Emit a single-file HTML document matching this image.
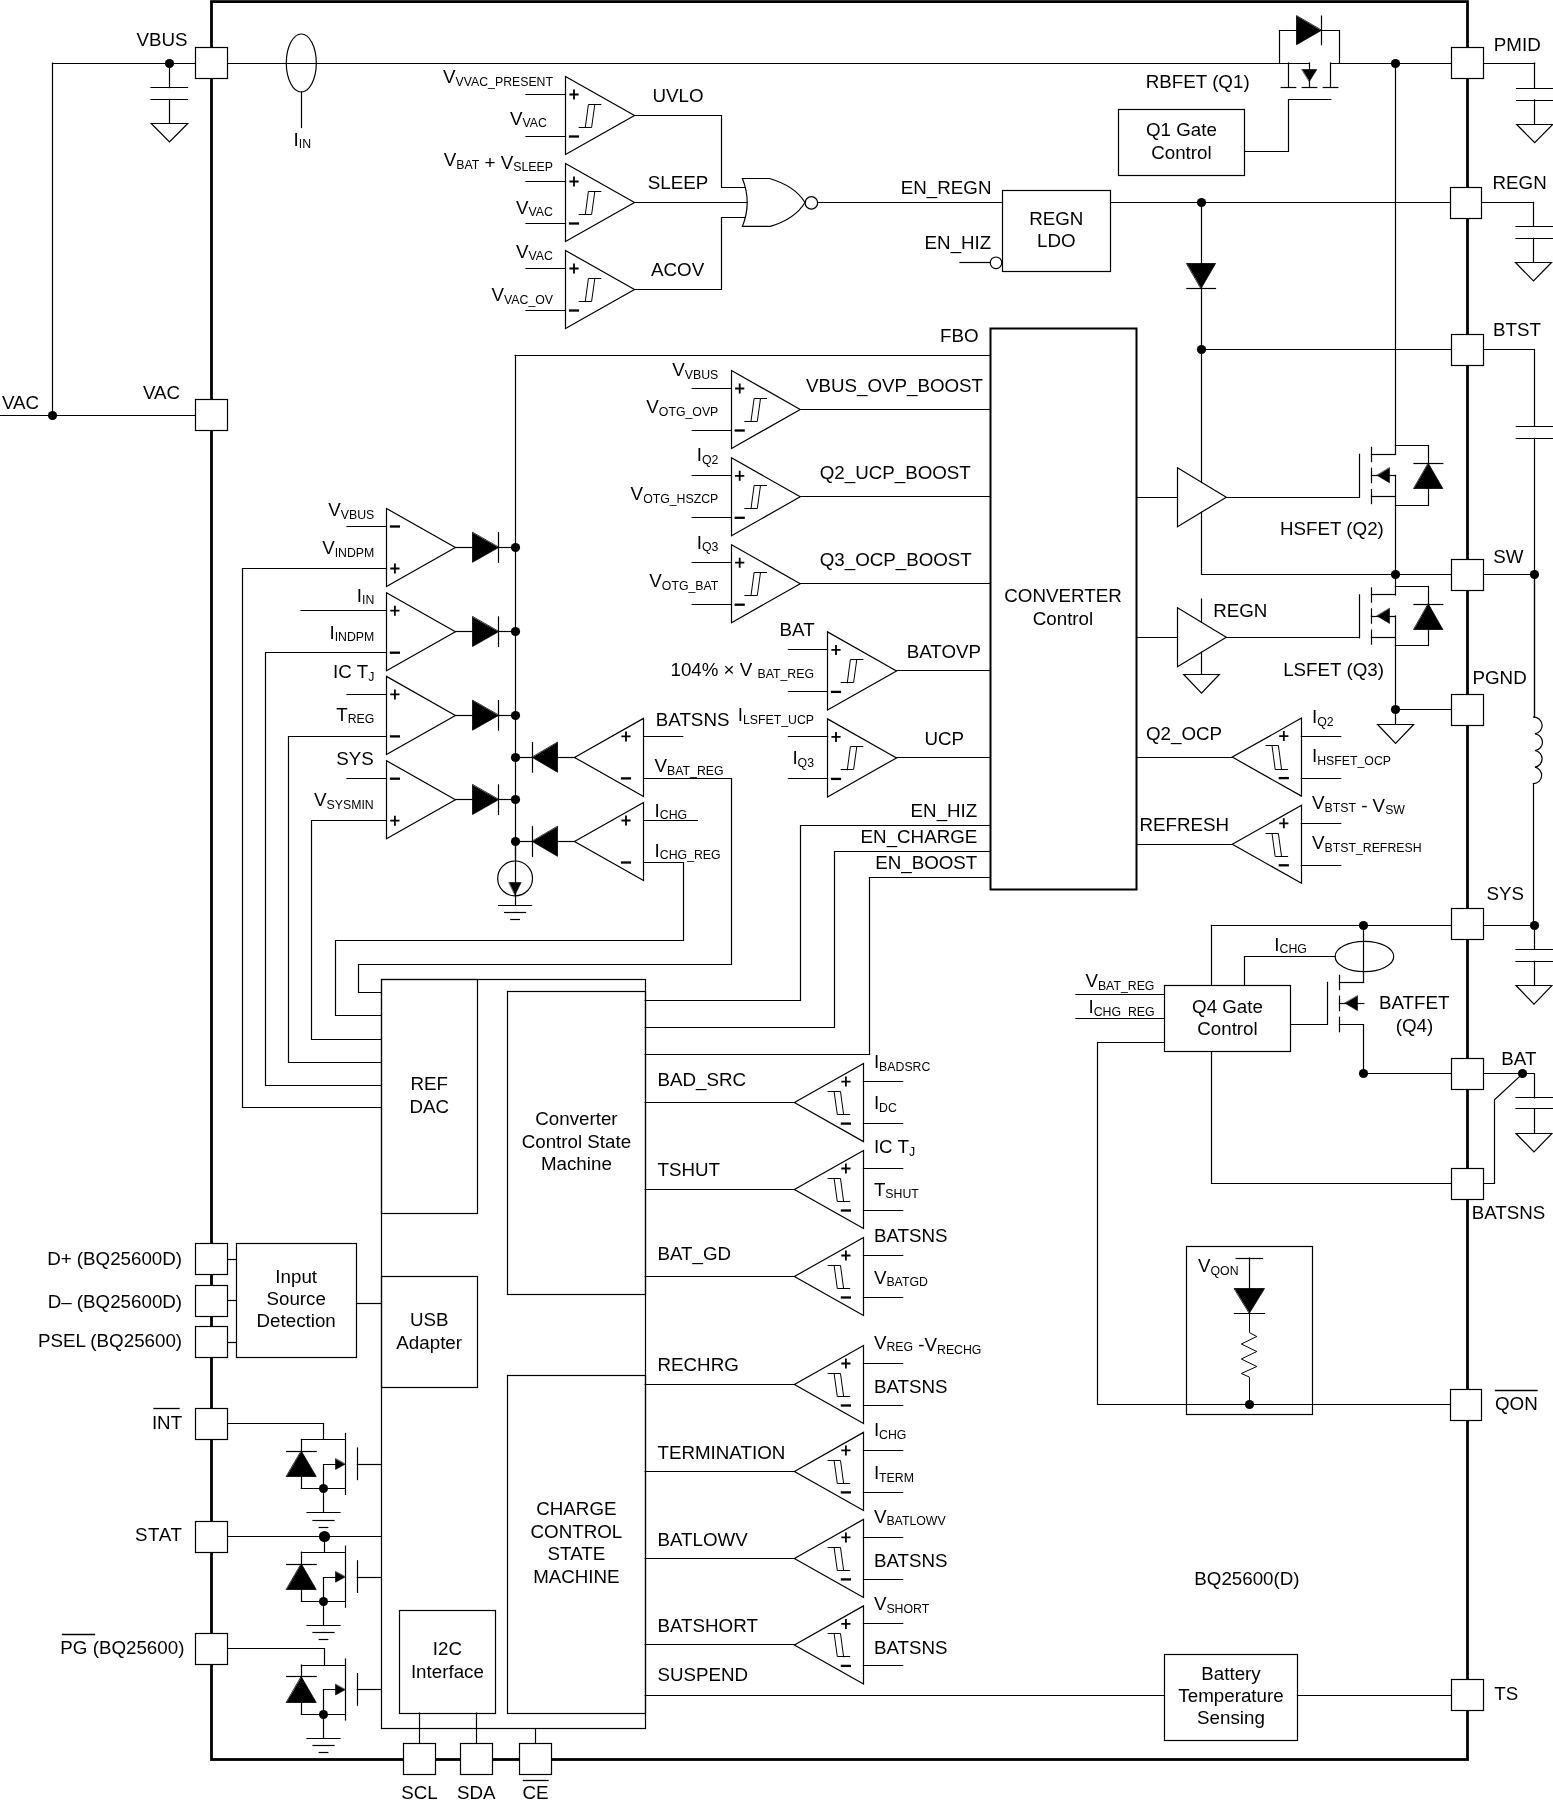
<!DOCTYPE html>
<html><head><meta charset="utf-8"><style>
html,body{margin:0;padding:0;background:#fff;}
svg{display:block;will-change:transform;}
text{font-family:"Liberation Sans",sans-serif;fill:#000;stroke:none;}
</style></head><body>
<svg width="1553" height="1806" viewBox="0 0 1553 1806" stroke="#000" stroke-linecap="square" stroke-linejoin="miter">
<rect x="0" y="0" width="1553" height="1806" fill="#fff" stroke="none"/>
<line x1="52.5" y1="63.5" x2="1309.5" y2="63.5" stroke-width="1.2"/>
<line x1="1330.5" y1="63.5" x2="1534.7" y2="63.5" stroke-width="1.2"/>
<line x1="0" y1="415.5" x2="211" y2="415.5" stroke-width="1.2"/>
<line x1="52.5" y1="63" x2="52.5" y2="415" stroke-width="1.2"/>
<circle cx="52.5" cy="415.5" r="4.6" fill="#000" stroke="none"/>
<circle cx="169.5" cy="63.5" r="4.6" fill="#000" stroke="none"/>
<line x1="169.5" y1="63" x2="169.5" y2="87.6" stroke-width="1.2"/>
<line x1="151" y1="87.5" x2="187.5" y2="87.5" stroke-width="1.2"/>
<line x1="151" y1="99.5" x2="187.5" y2="99.5" stroke-width="1.2"/>
<line x1="169.5" y1="99.3" x2="169.5" y2="123.3" stroke-width="1.2"/>
<polygon points="151.25,123.5 187.75,123.5 169.5,141.8" stroke-width="1.2" fill="#fff"/>
<ellipse cx="301.3" cy="63" rx="15" ry="29" fill="none" stroke-width="1.2"/>
<line x1="301.5" y1="92" x2="301.5" y2="127.5" stroke-width="1.2"/>
<text x="293.6" y="145.5" text-anchor="start" font-size="18.75">I<tspan dy="2.6" font-size="12.3">IN</tspan><tspan dy="-2.6"></tspan></text>
<polygon points="565.5,76.5 565.5,154.5 634.5,115.5" stroke-width="1.2" fill="#fff"/>
<path d="M569.4,94.5 H578.6 M574,89.5 V99.5" stroke-width="1.8" stroke-linecap="butt"/>
<path d="M568.9,136.5 H579.1" stroke-width="2.3" stroke-linecap="butt"/>
<polyline points="579.2,127.5 591.6,127.5 594.8,104.5 600.8,104.5" stroke-width="1" fill="none"/>
<polyline points="585.3,127.4 588.4,104.5 594.8,104.5" stroke-width="1" fill="none"/>
<line x1="526" y1="94.5" x2="565.5" y2="94.5" stroke-width="1.2"/>
<line x1="526" y1="136.5" x2="565.5" y2="136.5" stroke-width="1.2"/>
<polygon points="565.5,163.5 565.5,241.5 634.5,202.5" stroke-width="1.2" fill="#fff"/>
<path d="M569.4,181.5 H578.6 M574,176.5 V186.5" stroke-width="1.8" stroke-linecap="butt"/>
<path d="M568.9,223.5 H579.1" stroke-width="2.3" stroke-linecap="butt"/>
<polyline points="579.2,214.5 591.6,214.5 594.8,191.5 600.8,191.5" stroke-width="1" fill="none"/>
<polyline points="585.3,214.4 588.4,191.5 594.8,191.5" stroke-width="1" fill="none"/>
<line x1="526" y1="181.5" x2="565.5" y2="181.5" stroke-width="1.2"/>
<line x1="526" y1="223.5" x2="565.5" y2="223.5" stroke-width="1.2"/>
<polygon points="565.5,250.5 565.5,328.5 634.5,289.5" stroke-width="1.2" fill="#fff"/>
<path d="M569.4,268.5 H578.6 M574,263.5 V273.5" stroke-width="1.8" stroke-linecap="butt"/>
<path d="M568.9,310.5 H579.1" stroke-width="2.3" stroke-linecap="butt"/>
<polyline points="579.2,301.5 591.6,301.5 594.8,278.5 600.8,278.5" stroke-width="1" fill="none"/>
<polyline points="585.3,301.4 588.4,278.5 594.8,278.5" stroke-width="1" fill="none"/>
<line x1="526" y1="268.5" x2="565.5" y2="268.5" stroke-width="1.2"/>
<line x1="526" y1="310.5" x2="565.5" y2="310.5" stroke-width="1.2"/>
<polyline points="634.5,115.5 721.5,115.5 721.5,187.5 745.5,187.5" stroke-width="1.2" fill="none"/>
<line x1="634.5" y1="202.5" x2="747.8" y2="202.5" stroke-width="1.2"/>
<polyline points="634.5,289.5 721.5,289.5 721.5,217.5 745.5,217.5" stroke-width="1.2" fill="none"/>
<text x="652.5" y="101.7" text-anchor="start" font-size="18.75">UVLO</text>
<text x="647.8" y="189.3" text-anchor="start" font-size="18.75">SLEEP</text>
<text x="651" y="276.1" text-anchor="start" font-size="18.75">ACOV</text>
<text x="443" y="83" text-anchor="start" font-size="18.75">V<tspan dy="2.6" font-size="12.3">VVAC_PRESENT</tspan><tspan dy="-2.6"></tspan></text>
<text x="510" y="124.5" text-anchor="start" font-size="18.75">V<tspan dy="2.6" font-size="12.3">VAC</tspan><tspan dy="-2.6"></tspan></text>
<text x="443.8" y="166" text-anchor="start" font-size="18.75">V<tspan dy="2.6" font-size="12.3">BAT</tspan><tspan dy="-2.6"></tspan>&#160;+&#160;V<tspan dy="2.6" font-size="12.3">SLEEP</tspan><tspan dy="-2.6"></tspan></text>
<text x="516" y="213.8" text-anchor="start" font-size="18.75">V<tspan dy="2.6" font-size="12.3">VAC</tspan><tspan dy="-2.6"></tspan></text>
<text x="516" y="257.6" text-anchor="start" font-size="18.75">V<tspan dy="2.6" font-size="12.3">VAC</tspan><tspan dy="-2.6"></tspan></text>
<text x="491.5" y="301.4" text-anchor="start" font-size="18.75">V<tspan dy="2.6" font-size="12.3">VAC_OV</tspan><tspan dy="-2.6"></tspan></text>
<path d="M742.4,178.5 L769.5,178.5 Q795,186 805,202.5 Q795,219 770.3,226.4 L742.4,226.4 Q752,202.5 742.4,178.5 Z" stroke-width="1.2" fill="#fff"/>
<circle cx="811.4" cy="202.9" r="6.2" fill="#fff" stroke-width="1.2"/>
<line x1="817.6" y1="202.5" x2="1002" y2="202.5" stroke-width="1.2"/>
<text x="900.8" y="193.6" text-anchor="start" font-size="18.75">EN_REGN</text>
<rect x="1002.5" y="190.5" width="108" height="81" stroke-width="1.2" fill="#fff"/>
<text x="1056.3" y="224.6" text-anchor="middle" font-size="18.75">REGN</text>
<text x="1056.3" y="246.9" text-anchor="middle" font-size="18.75">LDO</text>
<text x="924.6" y="249.2" text-anchor="start" font-size="18.75">EN_HIZ</text>
<line x1="960" y1="262.5" x2="990.2" y2="262.5" stroke-width="1.2"/>
<circle cx="996" cy="262.8" r="5.8" fill="#fff" stroke-width="1.2"/>
<line x1="1110.7" y1="202.5" x2="1533.5" y2="202.5" stroke-width="1.2"/>
<circle cx="1201.5" cy="202.5" r="4.6" fill="#000" stroke="none"/>
<line x1="1201.5" y1="202.3" x2="1201.5" y2="482" stroke-width="1.2"/>
<polygon points="1186.9,263.5 1215.5,263.5 1201.2,288.2" stroke-width="0.8" fill="#000"/>
<line x1="1186.9" y1="288.5" x2="1215.5" y2="288.5" stroke-width="1.2"/>
<circle cx="1201.5" cy="349.5" r="4.6" fill="#000" stroke="none"/>
<line x1="1201.2" y1="349.5" x2="1534.4" y2="349.5" stroke-width="1.2"/>
<line x1="1534.5" y1="349.6" x2="1534.5" y2="426.3" stroke-width="1.2"/>
<line x1="1534.5" y1="438.3" x2="1534.5" y2="717.1" stroke-width="1.2"/>
<line x1="1516.3" y1="426.5" x2="1553" y2="426.5" stroke-width="1.2"/>
<line x1="1516.3" y1="438.5" x2="1553" y2="438.5" stroke-width="1.2"/>
<circle cx="1534.5" cy="574.5" r="4.6" fill="#000" stroke="none"/>
<line x1="1534.5" y1="63" x2="1534.5" y2="88" stroke-width="1.2"/>
<line x1="1516.6" y1="88.5" x2="1553" y2="88.5" stroke-width="1.2"/>
<line x1="1516.6" y1="100.5" x2="1553" y2="100.5" stroke-width="1.2"/>
<line x1="1534.5" y1="100" x2="1534.5" y2="124.6" stroke-width="1.2"/>
<polygon points="1516.7,124.5 1552.7,124.5 1534.7,142.6" stroke-width="1.2" fill="#fff"/>
<line x1="1533.5" y1="202.3" x2="1533.5" y2="226" stroke-width="1.2"/>
<line x1="1516" y1="226.5" x2="1553" y2="226.5" stroke-width="1.2"/>
<line x1="1516" y1="238.5" x2="1553" y2="238.5" stroke-width="1.2"/>
<line x1="1533.5" y1="238.3" x2="1533.5" y2="262.5" stroke-width="1.2"/>
<polygon points="1515.5,262.5 1551.5,262.5 1533.5,281" stroke-width="1.2" fill="#fff"/>
<polygon points="1296.5,16.1 1296.5,44.7 1321.2,30.4" stroke-width="0.8" fill="#000"/>
<line x1="1321.5" y1="16.1" x2="1321.5" y2="44.7" stroke-width="1.2"/>
<polyline points="1279.5,63 1279.5,30.5 1296.4,30.5" stroke-width="1.2" fill="none"/>
<polyline points="1321.2,30.5 1339.5,30.5 1339.5,63" stroke-width="1.2" fill="none"/>
<line x1="1288.5" y1="63" x2="1288.5" y2="87.4" stroke-width="1.2"/>
<line x1="1281.2" y1="87.5" x2="1295.7" y2="87.5" stroke-width="1.2"/>
<line x1="1309.5" y1="63" x2="1309.5" y2="87.4" stroke-width="1.2"/>
<polygon points="1302.2,69.5 1316.8,69.5 1309.5,81.3" stroke-width="0.6" fill="#000"/>
<line x1="1302.2" y1="87.5" x2="1316.8" y2="87.5" stroke-width="1.2"/>
<line x1="1330.5" y1="63" x2="1330.5" y2="87.4" stroke-width="1.2"/>
<line x1="1323.2" y1="87.5" x2="1337.8" y2="87.5" stroke-width="1.2"/>
<polyline points="1330.8,99.5 1288.5,99.5 1288.5,151.5 1244.4,151.5" stroke-width="1.2" fill="none"/>
<text x="1145.8" y="88.4" text-anchor="start" font-size="18.75">RBFET (Q1)</text>
<rect x="1118.5" y="109.5" width="126" height="66" stroke-width="1.2" fill="#fff"/>
<text x="1181.4" y="136.3" text-anchor="middle" font-size="18.75">Q1 Gate</text>
<text x="1181.4" y="158.5" text-anchor="middle" font-size="18.75">Control</text>
<circle cx="1395.5" cy="63.5" r="4.6" fill="#000" stroke="none"/>
<line x1="1395.5" y1="63" x2="1395.5" y2="454.3" stroke-width="1.2"/>
<line x1="515.1" y1="355.5" x2="990.3" y2="355.5" stroke-width="1.2"/>
<text x="940.1" y="341.9" text-anchor="start" font-size="18.75">FBO</text>
<line x1="515.5" y1="355.4" x2="515.5" y2="860" stroke-width="1.2"/>
<polygon points="731.5,370.5 731.5,448.5 800.2,409.5" stroke-width="1.2" fill="#fff"/>
<path d="M735.1,388.5 H744.3 M739.7,383.5 V393.5" stroke-width="1.8" stroke-linecap="butt"/>
<path d="M734.6,430.5 H744.8" stroke-width="2.3" stroke-linecap="butt"/>
<polyline points="744.9,421.5 757.3,421.5 760.5,398.5 766.5,398.5" stroke-width="1" fill="none"/>
<polyline points="751,421.4 754.1,398.5 760.5,398.5" stroke-width="1" fill="none"/>
<line x1="692.2" y1="388.5" x2="731.2" y2="388.5" stroke-width="1.2"/>
<line x1="692.2" y1="430.5" x2="731.2" y2="430.5" stroke-width="1.2"/>
<line x1="800.2" y1="409.5" x2="990.3" y2="409.5" stroke-width="1.2"/>
<text x="805.9" y="392.4" text-anchor="start" font-size="18.75">VBUS_OVP_BOOST</text>
<polygon points="731.5,457.8 731.5,535.8 800.2,496.8" stroke-width="1.2" fill="#fff"/>
<path d="M735.1,475.8 H744.3 M739.7,470.8 V480.8" stroke-width="1.8" stroke-linecap="butt"/>
<path d="M734.6,517.8 H744.8" stroke-width="2.3" stroke-linecap="butt"/>
<polyline points="744.9,508.5 757.3,508.5 760.5,485.5 766.5,485.5" stroke-width="1" fill="none"/>
<polyline points="751,508.7 754.1,485.5 760.5,485.5" stroke-width="1" fill="none"/>
<line x1="692.2" y1="475.5" x2="731.2" y2="475.5" stroke-width="1.2"/>
<line x1="692.2" y1="517.5" x2="731.2" y2="517.5" stroke-width="1.2"/>
<line x1="800.2" y1="496.5" x2="990.3" y2="496.5" stroke-width="1.2"/>
<text x="819.7" y="479.4" text-anchor="start" font-size="18.75">Q2_UCP_BOOST</text>
<polygon points="731.5,544.7 731.5,622.7 800.2,583.7" stroke-width="1.2" fill="#fff"/>
<path d="M735.1,562.7 H744.3 M739.7,557.7 V567.7" stroke-width="1.8" stroke-linecap="butt"/>
<path d="M734.6,604.7 H744.8" stroke-width="2.3" stroke-linecap="butt"/>
<polyline points="744.9,595.5 757.3,595.5 760.5,572.5 766.5,572.5" stroke-width="1" fill="none"/>
<polyline points="751,595.6 754.1,572.5 760.5,572.5" stroke-width="1" fill="none"/>
<line x1="692.2" y1="562.5" x2="731.2" y2="562.5" stroke-width="1.2"/>
<line x1="692.2" y1="604.5" x2="731.2" y2="604.5" stroke-width="1.2"/>
<line x1="800.2" y1="583.5" x2="990.3" y2="583.5" stroke-width="1.2"/>
<text x="819.7" y="566.3" text-anchor="start" font-size="18.75">Q3_OCP_BOOST</text>
<text x="718.3" y="376.3" text-anchor="end" font-size="18.75">V<tspan dy="2.6" font-size="12.3">VBUS</tspan><tspan dy="-2.6"></tspan></text>
<text x="718.3" y="413.4" text-anchor="end" font-size="18.75">V<tspan dy="2.6" font-size="12.3">OTG_OVP</tspan><tspan dy="-2.6"></tspan></text>
<text x="718.3" y="461" text-anchor="end" font-size="18.75">I<tspan dy="2.6" font-size="12.3">Q2</tspan><tspan dy="-2.6"></tspan></text>
<text x="718.3" y="500.3" text-anchor="end" font-size="18.75">V<tspan dy="2.6" font-size="12.3">OTG_HSZCP</tspan><tspan dy="-2.6"></tspan></text>
<text x="718.3" y="548.6" text-anchor="end" font-size="18.75">I<tspan dy="2.6" font-size="12.3">Q3</tspan><tspan dy="-2.6"></tspan></text>
<text x="718.3" y="587.2" text-anchor="end" font-size="18.75">V<tspan dy="2.6" font-size="12.3">OTG_BAT</tspan><tspan dy="-2.6"></tspan></text>
<polygon points="827.5,631.9 827.5,709.9 896.5,670.9" stroke-width="1.2" fill="#fff"/>
<path d="M831.4,649.9 H840.6 M836,644.9 V654.9" stroke-width="1.8" stroke-linecap="butt"/>
<path d="M830.9,691.9 H841.1" stroke-width="2.3" stroke-linecap="butt"/>
<polyline points="841.2,682.5 853.6,682.5 856.8,659.5 862.8,659.5" stroke-width="1" fill="none"/>
<polyline points="847.3,682.8 850.4,659.5 856.8,659.5" stroke-width="1" fill="none"/>
<line x1="788.4" y1="649.5" x2="827.5" y2="649.5" stroke-width="1.2"/>
<line x1="788.4" y1="691.5" x2="827.5" y2="691.5" stroke-width="1.2"/>
<line x1="896.5" y1="670.5" x2="990.3" y2="670.5" stroke-width="1.2"/>
<text x="906.7" y="657.5" text-anchor="start" font-size="18.75">BATOVP</text>
<polygon points="827.5,718.9 827.5,796.9 896.5,757.9" stroke-width="1.2" fill="#fff"/>
<path d="M831.4,736.9 H840.6 M836,731.9 V741.9" stroke-width="1.8" stroke-linecap="butt"/>
<path d="M830.9,778.9 H841.1" stroke-width="2.3" stroke-linecap="butt"/>
<polyline points="841.2,769.5 853.6,769.5 856.8,746.5 862.8,746.5" stroke-width="1" fill="none"/>
<polyline points="847.3,769.8 850.4,746.5 856.8,746.5" stroke-width="1" fill="none"/>
<line x1="788.4" y1="736.5" x2="827.5" y2="736.5" stroke-width="1.2"/>
<line x1="788.4" y1="778.5" x2="827.5" y2="778.5" stroke-width="1.2"/>
<line x1="896.5" y1="757.5" x2="990.3" y2="757.5" stroke-width="1.2"/>
<text x="924.4" y="744.5" text-anchor="start" font-size="18.75">UCP</text>
<text x="779.6" y="636.1" text-anchor="start" font-size="18.75">BAT</text>
<text x="814" y="675.5" text-anchor="end" font-size="18.75">104%&#160;×&#160;V&#160;<tspan dy="2.6" font-size="12.3">BAT_REG</tspan><tspan dy="-2.6"></tspan></text>
<text x="814" y="720.9" text-anchor="end" font-size="18.75">I<tspan dy="2.6" font-size="12.3">LSFET_UCP</tspan><tspan dy="-2.6"></tspan></text>
<text x="814" y="764.2" text-anchor="end" font-size="18.75">I<tspan dy="2.6" font-size="12.3">Q3</tspan><tspan dy="-2.6"></tspan></text>
<polyline points="990.3,825.5 800.5,825.5 800.5,1000.5 645.2,1000.5" stroke-width="1.2" fill="none"/>
<polyline points="990.3,851.5 834.5,851.5 834.5,1027.5 645.2,1027.5" stroke-width="1.2" fill="none"/>
<polyline points="990.3,877.5 869.5,877.5 869.5,1054.5 645.2,1054.5" stroke-width="1.2" fill="none"/>
<text x="977.3" y="816.7" text-anchor="end" font-size="18.75">EN_HIZ</text>
<text x="977.3" y="843" text-anchor="end" font-size="18.75">EN_CHARGE</text>
<text x="977.3" y="869.3" text-anchor="end" font-size="18.75">EN_BOOST</text>
<rect x="990.5" y="328.5" width="146" height="561" stroke-width="2" fill="#fff"/>
<text x="1063" y="602.3" text-anchor="middle" font-size="18.75">CONVERTER</text>
<text x="1063" y="624.6" text-anchor="middle" font-size="18.75">Control</text>
<line x1="1136.7" y1="497.5" x2="1177.3" y2="497.5" stroke-width="1.2"/>
<line x1="1136.7" y1="637.5" x2="1177.3" y2="637.5" stroke-width="1.2"/>
<polygon points="1177.5,467.7 1177.5,526.7 1226.3,497.2" stroke-width="1.2" fill="#fff"/>
<polygon points="1177.5,607.7 1177.5,666.7 1226.3,637.2" stroke-width="1.2" fill="#fff"/>
<polyline points="1201.5,512.3 1201.5,574.5 1395.4,574.5" stroke-width="1.2" fill="none"/>
<line x1="1395.4" y1="574.5" x2="1467" y2="574.5" stroke-width="1.2"/>
<line x1="1483" y1="574.5" x2="1534.4" y2="574.5" stroke-width="1.2"/>
<circle cx="1395.5" cy="574.5" r="4.6" fill="#000" stroke="none"/>
<line x1="1201.5" y1="599" x2="1201.5" y2="622.2" stroke-width="1.2"/>
<line x1="1201.5" y1="652.2" x2="1201.5" y2="674.2" stroke-width="1.2"/>
<polygon points="1183.7,674.5 1219.3,674.5 1201.5,693.2" stroke-width="1.2" fill="#fff"/>
<text x="1213.2" y="617.4" text-anchor="start" font-size="18.75">REGN</text>
<line x1="1226.3" y1="497.5" x2="1359.4" y2="497.5" stroke-width="1.2"/>
<line x1="1359.5" y1="454.3" x2="1359.5" y2="497.2" stroke-width="1.2"/>
<line x1="1371.5" y1="447.4" x2="1371.5" y2="461.6" stroke-width="1.2"/>
<line x1="1371.5" y1="468.3" x2="1371.5" y2="482.6" stroke-width="1.2"/>
<line x1="1371.5" y1="489.5" x2="1371.5" y2="503.6" stroke-width="1.2"/>
<line x1="1371.4" y1="454.5" x2="1395.4" y2="454.5" stroke-width="1.2"/>
<line x1="1371.4" y1="475.5" x2="1395.4" y2="475.5" stroke-width="1.2"/>
<polygon points="1389.5,468 1389.5,482.8 1377.2,475.4" stroke-width="0.6" fill="#000"/>
<line x1="1371.4" y1="496.5" x2="1395.4" y2="496.5" stroke-width="1.2"/>
<polyline points="1395.4,445.5 1428.5,445.5 1428.5,463.5" stroke-width="1.2" fill="none"/>
<polygon points="1414,488.5 1442.8,488.5 1428.4,463.5" stroke-width="0.8" fill="#000"/>
<line x1="1414" y1="463.5" x2="1442.8" y2="463.5" stroke-width="1.2"/>
<polyline points="1428.5,488.6 1428.5,505.5 1395.4,505.5" stroke-width="1.2" fill="none"/>
<line x1="1226.3" y1="637.5" x2="1359.4" y2="637.5" stroke-width="1.2"/>
<line x1="1359.5" y1="594.9" x2="1359.5" y2="637.8" stroke-width="1.2"/>
<line x1="1371.5" y1="588" x2="1371.5" y2="602.2" stroke-width="1.2"/>
<line x1="1371.5" y1="608.9" x2="1371.5" y2="623.2" stroke-width="1.2"/>
<line x1="1371.5" y1="630.1" x2="1371.5" y2="644.2" stroke-width="1.2"/>
<line x1="1371.4" y1="594.5" x2="1395.4" y2="594.5" stroke-width="1.2"/>
<line x1="1371.4" y1="616.5" x2="1395.4" y2="616.5" stroke-width="1.2"/>
<polygon points="1389.5,608.6 1389.5,623.4 1377.2,616" stroke-width="0.6" fill="#000"/>
<line x1="1371.4" y1="637.5" x2="1395.4" y2="637.5" stroke-width="1.2"/>
<polyline points="1395.4,586.5 1428.5,586.5 1428.5,604.1" stroke-width="1.2" fill="none"/>
<polygon points="1414,629.5 1442.8,629.5 1428.4,604.1" stroke-width="0.8" fill="#000"/>
<line x1="1414" y1="604.5" x2="1442.8" y2="604.5" stroke-width="1.2"/>
<polyline points="1428.5,629.2 1428.5,645.5 1395.4,645.5" stroke-width="1.2" fill="none"/>
<line x1="1395.5" y1="475.4" x2="1395.5" y2="574.3" stroke-width="1.2"/>
<line x1="1395.5" y1="574.3" x2="1395.5" y2="595" stroke-width="1.2"/>
<line x1="1395.5" y1="616" x2="1395.5" y2="709.3" stroke-width="1.2"/>
<text x="1280" y="534.8" text-anchor="start" font-size="18.75">HSFET (Q2)</text>
<text x="1283.2" y="675.7" text-anchor="start" font-size="18.75">LSFET (Q3)</text>
<circle cx="1395.5" cy="709.5" r="4.6" fill="#000" stroke="none"/>
<line x1="1395.4" y1="709.5" x2="1467" y2="709.5" stroke-width="1.2"/>
<line x1="1395.5" y1="709.3" x2="1395.5" y2="724.4" stroke-width="1.2"/>
<polygon points="1377.6,724.5 1413.6,724.5 1395.6,743.4" stroke-width="1.2" fill="#fff"/>
<line x1="1534.5" y1="574.3" x2="1534.5" y2="717.1" stroke-width="1.2"/>
<path d="M1533.5,717.1 A8.4,8.4 0 0 1 1535,733.8 A8.4,8.4 0 0 1 1535,750.5 A8.4,8.4 0 0 1 1535,767.1 A8.4,8.4 0 0 1 1533.5,783.7" stroke-width="1.2" fill="none"/>
<line x1="1533.5" y1="783.7" x2="1533.5" y2="925.4" stroke-width="1.2"/>
<polygon points="1301.5,718.1 1301.5,796.1 1232.3,757.1" stroke-width="1.2" fill="#fff"/>
<path d="M1279.2,736.1 H1288.4 M1283.8,731.1 V741.1" stroke-width="1.8" stroke-linecap="butt"/>
<path d="M1278.7,778.1 H1288.9" stroke-width="2.3" stroke-linecap="butt"/>
<polyline points="1287.6,769.5 1275.2,769.5 1272,745.5 1266,745.5" stroke-width="1" fill="none"/>
<polyline points="1281.5,769 1278.4,745.5 1272,745.5" stroke-width="1" fill="none"/>
<line x1="1301.3" y1="736.5" x2="1340.7" y2="736.5" stroke-width="1.2"/>
<line x1="1301.3" y1="778.5" x2="1340.7" y2="778.5" stroke-width="1.2"/>
<line x1="1136.7" y1="757.5" x2="1232.3" y2="757.5" stroke-width="1.2"/>
<text x="1146" y="740.4" text-anchor="start" font-size="18.75">Q2_OCP</text>
<polygon points="1301.5,805.3 1301.5,883.3 1232.3,844.3" stroke-width="1.2" fill="#fff"/>
<path d="M1279.2,823.3 H1288.4 M1283.8,818.3 V828.3" stroke-width="1.8" stroke-linecap="butt"/>
<path d="M1278.7,865.3 H1288.9" stroke-width="2.3" stroke-linecap="butt"/>
<polyline points="1287.6,856.5 1275.2,856.5 1272,833.5 1266,833.5" stroke-width="1" fill="none"/>
<polyline points="1281.5,856.2 1278.4,833.5 1272,833.5" stroke-width="1" fill="none"/>
<line x1="1301.3" y1="823.5" x2="1340.7" y2="823.5" stroke-width="1.2"/>
<line x1="1301.3" y1="865.5" x2="1340.7" y2="865.5" stroke-width="1.2"/>
<line x1="1136.7" y1="844.5" x2="1232.3" y2="844.5" stroke-width="1.2"/>
<text x="1139.4" y="830.9" text-anchor="start" font-size="18.75">REFRESH</text>
<text x="1312" y="723" text-anchor="start" font-size="18.75">I<tspan dy="2.6" font-size="12.3">Q2</tspan><tspan dy="-2.6"></tspan></text>
<text x="1312" y="762.3" text-anchor="start" font-size="18.75">I<tspan dy="2.6" font-size="12.3">HSFET_OCP</tspan><tspan dy="-2.6"></tspan></text>
<text x="1312" y="809" text-anchor="start" font-size="18.75">V<tspan dy="2.6" font-size="12.3">BTST</tspan><tspan dy="-2.6"></tspan>&#160;-&#160;V<tspan dy="2.6" font-size="12.3">SW</tspan><tspan dy="-2.6"></tspan></text>
<text x="1312" y="849" text-anchor="start" font-size="18.75">V<tspan dy="2.6" font-size="12.3">BTST_REFRESH</tspan><tspan dy="-2.6"></tspan></text>
<polyline points="386.4,568.5 242.5,568.5 242.5,1107.5 381.4,1107.5" stroke-width="1.2" fill="none"/>
<polyline points="386.4,652.5 265.5,652.5 265.5,1085.5 381.4,1085.5" stroke-width="1.2" fill="none"/>
<polyline points="386.4,736.5 288.5,736.5 288.5,1062.5 381.4,1062.5" stroke-width="1.2" fill="none"/>
<polyline points="386.4,820.5 311.5,820.5 311.5,1039.5 381.4,1039.5" stroke-width="1.2" fill="none"/>
<line x1="347" y1="526.5" x2="386.4" y2="526.5" stroke-width="1.2"/>
<line x1="301" y1="610.5" x2="386.4" y2="610.5" stroke-width="1.2"/>
<line x1="347" y1="694.5" x2="386.4" y2="694.5" stroke-width="1.2"/>
<line x1="347" y1="778.5" x2="386.4" y2="778.5" stroke-width="1.2"/>
<polygon points="386.5,508.5 386.5,586.5 455.4,547.5" stroke-width="1.2" fill="#fff"/>
<path d="M389.8,526.5 H400" stroke-width="2.3" stroke-linecap="butt"/>
<path d="M390.3,568.5 H399.5 M394.9,563.5 V573.5" stroke-width="1.8" stroke-linecap="butt"/>
<line x1="455.4" y1="547.5" x2="472.2" y2="547.5" stroke-width="1.2"/>
<polygon points="472.5,532.7 472.5,562.3 498.5,547.5" stroke-width="0.8" fill="#000"/>
<line x1="498.5" y1="532.7" x2="498.5" y2="562.3" stroke-width="1.2"/>
<line x1="498.5" y1="547.5" x2="515.1" y2="547.5" stroke-width="1.2"/>
<circle cx="515.5" cy="547.5" r="4.6" fill="#000" stroke="none"/>
<polygon points="386.5,592.7 386.5,670.7 455.4,631.7" stroke-width="1.2" fill="#fff"/>
<path d="M390.3,610.7 H399.5 M394.9,605.7 V615.7" stroke-width="1.8" stroke-linecap="butt"/>
<path d="M389.8,652.7 H400" stroke-width="2.3" stroke-linecap="butt"/>
<line x1="455.4" y1="631.5" x2="472.2" y2="631.5" stroke-width="1.2"/>
<polygon points="472.5,616.9 472.5,646.5 498.5,631.7" stroke-width="0.8" fill="#000"/>
<line x1="498.5" y1="616.9" x2="498.5" y2="646.5" stroke-width="1.2"/>
<line x1="498.5" y1="631.5" x2="515.1" y2="631.5" stroke-width="1.2"/>
<circle cx="515.5" cy="631.5" r="4.6" fill="#000" stroke="none"/>
<polygon points="386.5,676.4 386.5,754.4 455.4,715.4" stroke-width="1.2" fill="#fff"/>
<path d="M390.3,694.4 H399.5 M394.9,689.4 V699.4" stroke-width="1.8" stroke-linecap="butt"/>
<path d="M389.8,736.4 H400" stroke-width="2.3" stroke-linecap="butt"/>
<line x1="455.4" y1="715.5" x2="472.2" y2="715.5" stroke-width="1.2"/>
<polygon points="472.5,700.6 472.5,730.2 498.5,715.4" stroke-width="0.8" fill="#000"/>
<line x1="498.5" y1="700.6" x2="498.5" y2="730.2" stroke-width="1.2"/>
<line x1="498.5" y1="715.5" x2="515.1" y2="715.5" stroke-width="1.2"/>
<circle cx="515.5" cy="715.5" r="4.6" fill="#000" stroke="none"/>
<polygon points="386.5,760.7 386.5,838.7 455.4,799.7" stroke-width="1.2" fill="#fff"/>
<path d="M389.8,778.7 H400" stroke-width="2.3" stroke-linecap="butt"/>
<path d="M390.3,820.7 H399.5 M394.9,815.7 V825.7" stroke-width="1.8" stroke-linecap="butt"/>
<line x1="455.4" y1="799.5" x2="472.2" y2="799.5" stroke-width="1.2"/>
<polygon points="472.5,784.9 472.5,814.5 498.5,799.7" stroke-width="0.8" fill="#000"/>
<line x1="498.5" y1="784.9" x2="498.5" y2="814.5" stroke-width="1.2"/>
<line x1="498.5" y1="799.5" x2="515.1" y2="799.5" stroke-width="1.2"/>
<circle cx="515.5" cy="799.5" r="4.6" fill="#000" stroke="none"/>
<text x="374.3" y="516" text-anchor="end" font-size="18.75">V<tspan dy="2.6" font-size="12.3">VBUS</tspan><tspan dy="-2.6"></tspan></text>
<text x="374.3" y="554.4" text-anchor="end" font-size="18.75">V<tspan dy="2.6" font-size="12.3">INDPM</tspan><tspan dy="-2.6"></tspan></text>
<text x="374.3" y="601.5" text-anchor="end" font-size="18.75">I<tspan dy="2.6" font-size="12.3">IN</tspan><tspan dy="-2.6"></tspan></text>
<text x="374.3" y="638.7" text-anchor="end" font-size="18.75">I<tspan dy="2.6" font-size="12.3">INDPM</tspan><tspan dy="-2.6"></tspan></text>
<text x="374.3" y="678.1" text-anchor="end" font-size="18.75">IC T<tspan dy="2.6" font-size="12.3">J</tspan><tspan dy="-2.6"></tspan></text>
<text x="374.3" y="720.8" text-anchor="end" font-size="18.75">T<tspan dy="2.6" font-size="12.3">REG</tspan><tspan dy="-2.6"></tspan></text>
<text x="373.7" y="765.4" text-anchor="end" font-size="18.75">SYS</text>
<text x="373.7" y="806" text-anchor="end" font-size="18.75">V<tspan dy="2.6" font-size="12.3">SYSMIN</tspan><tspan dy="-2.6"></tspan></text>
<polyline points="643.5,778.5 731.5,778.5 731.5,964.5 358.5,964.5 358.5,992.5 381.4,992.5" stroke-width="1.2" fill="none"/>
<polyline points="643.5,862.5 683.5,862.5 683.5,940.5 335.5,940.5 335.5,1015.5 381.4,1015.5" stroke-width="1.2" fill="none"/>
<line x1="643.5" y1="736.5" x2="682.7" y2="736.5" stroke-width="1.2"/>
<line x1="643.5" y1="820.5" x2="697.4" y2="820.5" stroke-width="1.2"/>
<polygon points="643.5,718.4 643.5,796.4 574.5,757.4" stroke-width="1.2" fill="#fff"/>
<path d="M621.4,736.4 H630.6 M626,731.4 V741.4" stroke-width="1.8" stroke-linecap="butt"/>
<path d="M620.9,778.4 H631.1" stroke-width="2.3" stroke-linecap="butt"/>
<line x1="515.1" y1="757.5" x2="532.3" y2="757.5" stroke-width="1.2"/>
<polygon points="557.5,742.6 557.5,772.2 532.3,757.4" stroke-width="0.8" fill="#000"/>
<line x1="532.5" y1="742.6" x2="532.5" y2="772.2" stroke-width="1.2"/>
<line x1="557.5" y1="757.5" x2="574.5" y2="757.5" stroke-width="1.2"/>
<circle cx="515.5" cy="757.5" r="4.6" fill="#000" stroke="none"/>
<polygon points="643.5,802.5 643.5,880.5 574.5,841.5" stroke-width="1.2" fill="#fff"/>
<path d="M621.4,820.5 H630.6 M626,815.5 V825.5" stroke-width="1.8" stroke-linecap="butt"/>
<path d="M620.9,862.5 H631.1" stroke-width="2.3" stroke-linecap="butt"/>
<line x1="515.1" y1="841.5" x2="532.3" y2="841.5" stroke-width="1.2"/>
<polygon points="557.5,826.7 557.5,856.3 532.3,841.5" stroke-width="0.8" fill="#000"/>
<line x1="532.5" y1="826.7" x2="532.5" y2="856.3" stroke-width="1.2"/>
<line x1="557.5" y1="841.5" x2="574.5" y2="841.5" stroke-width="1.2"/>
<circle cx="515.5" cy="841.5" r="4.6" fill="#000" stroke="none"/>
<text x="655.8" y="726.4" text-anchor="start" font-size="18.75">BATSNS</text>
<text x="654.6" y="772" text-anchor="start" font-size="18.75">V<tspan dy="2.6" font-size="12.3">BAT_REG</tspan><tspan dy="-2.6"></tspan></text>
<text x="654.6" y="816.5" text-anchor="start" font-size="18.75">I<tspan dy="2.6" font-size="12.3">CHG</tspan><tspan dy="-2.6"></tspan></text>
<text x="654.6" y="856.5" text-anchor="start" font-size="18.75">I<tspan dy="2.6" font-size="12.3">CHG_REG</tspan><tspan dy="-2.6"></tspan></text>
<line x1="515.5" y1="841.5" x2="515.5" y2="905.2" stroke-width="1.2"/>
<ellipse cx="515.1" cy="878.4" rx="17.4" ry="17.4" fill="none" stroke-width="1.2"/>
<polygon points="509.3,882.5 521.1,882.5 515.1,894.7" stroke-width="0.6" fill="#000"/>
<line x1="498.6" y1="905.5" x2="531.6" y2="905.5" stroke-width="1.2"/>
<line x1="504.6" y1="912.5" x2="525.6" y2="912.5" stroke-width="1.2"/>
<line x1="510.8" y1="919.5" x2="519.4" y2="919.5" stroke-width="1.2"/>
<rect x="381.5" y="979.5" width="264" height="749" stroke-width="1.2" fill="none"/>
<rect x="381.5" y="979.5" width="96" height="234" stroke-width="1.2" fill="none"/>
<rect x="381.5" y="1276.5" width="96" height="111" stroke-width="1.2" fill="none"/>
<rect x="399.5" y="1610.5" width="96" height="103" stroke-width="1.2" fill="none"/>
<rect x="507.5" y="991.5" width="138" height="303" stroke-width="1.2" fill="none"/>
<rect x="507.5" y="1375.5" width="138" height="338" stroke-width="1.2" fill="none"/>
<text x="429.2" y="1089.8" text-anchor="middle" font-size="18.75">REF</text>
<text x="429.2" y="1112.5" text-anchor="middle" font-size="18.75">DAC</text>
<text x="429.2" y="1325.5" text-anchor="middle" font-size="18.75">USB</text>
<text x="429.2" y="1348.6" text-anchor="middle" font-size="18.75">Adapter</text>
<text x="447.4" y="1655.4" text-anchor="middle" font-size="18.75">I2C</text>
<text x="447.4" y="1677.7" text-anchor="middle" font-size="18.75">Interface</text>
<text x="576.4" y="1124.8" text-anchor="middle" font-size="18.75">Converter</text>
<text x="576.4" y="1147.5" text-anchor="middle" font-size="18.75">Control State</text>
<text x="576.4" y="1170.2" text-anchor="middle" font-size="18.75">Machine</text>
<text x="576.4" y="1515.1" text-anchor="middle" font-size="18.75">CHARGE</text>
<text x="576.4" y="1537.65" text-anchor="middle" font-size="18.75">CONTROL</text>
<text x="576.4" y="1560.2" text-anchor="middle" font-size="18.75">STATE</text>
<text x="576.4" y="1582.75" text-anchor="middle" font-size="18.75">MACHINE</text>
<line x1="645.2" y1="1102.5" x2="794.5" y2="1102.5" stroke-width="1.2"/>
<polygon points="863.5,1063.6 863.5,1141.6 794.4,1102.6" stroke-width="1.2" fill="#fff"/>
<path d="M841.3,1081.6 H850.5 M845.9,1076.6 V1086.6" stroke-width="1.8" stroke-linecap="butt"/>
<path d="M840.8,1123.6 H851" stroke-width="2.3" stroke-linecap="butt"/>
<polyline points="849.7,1114.5 837.3,1114.5 834.1,1091.5 828.1,1091.5" stroke-width="1" fill="none"/>
<polyline points="843.6,1114.5 840.5,1091.5 834.1,1091.5" stroke-width="1" fill="none"/>
<line x1="863.4" y1="1081.5" x2="902.7" y2="1081.5" stroke-width="1.2"/>
<line x1="863.4" y1="1123.5" x2="902.7" y2="1123.5" stroke-width="1.2"/>
<text x="657.5" y="1085.7" text-anchor="start" font-size="18.75">BAD_SRC</text>
<text x="873.9" y="1068" text-anchor="start" font-size="18.75">I<tspan dy="2.6" font-size="12.3">BADSRC</tspan><tspan dy="-2.6"></tspan></text>
<text x="873.9" y="1109.2" text-anchor="start" font-size="18.75">I<tspan dy="2.6" font-size="12.3">DC</tspan><tspan dy="-2.6"></tspan></text>
<line x1="645.2" y1="1189.5" x2="794.5" y2="1189.5" stroke-width="1.2"/>
<polygon points="863.5,1150.5 863.5,1228.5 794.4,1189.5" stroke-width="1.2" fill="#fff"/>
<path d="M841.3,1168.5 H850.5 M845.9,1163.5 V1173.5" stroke-width="1.8" stroke-linecap="butt"/>
<path d="M840.8,1210.5 H851" stroke-width="2.3" stroke-linecap="butt"/>
<polyline points="849.7,1201.5 837.3,1201.5 834.1,1178.5 828.1,1178.5" stroke-width="1" fill="none"/>
<polyline points="843.6,1201.4 840.5,1178.5 834.1,1178.5" stroke-width="1" fill="none"/>
<line x1="863.4" y1="1168.5" x2="902.7" y2="1168.5" stroke-width="1.2"/>
<line x1="863.4" y1="1210.5" x2="902.7" y2="1210.5" stroke-width="1.2"/>
<text x="657.5" y="1176.4" text-anchor="start" font-size="18.75">TSHUT</text>
<text x="873.9" y="1152.9" text-anchor="start" font-size="18.75">IC T<tspan dy="2.6" font-size="12.3">J</tspan><tspan dy="-2.6"></tspan></text>
<text x="873.9" y="1195.7" text-anchor="start" font-size="18.75">T<tspan dy="2.6" font-size="12.3">SHUT</tspan><tspan dy="-2.6"></tspan></text>
<line x1="645.2" y1="1276.5" x2="794.5" y2="1276.5" stroke-width="1.2"/>
<polygon points="863.5,1237.5 863.5,1315.5 794.4,1276.5" stroke-width="1.2" fill="#fff"/>
<path d="M841.3,1255.5 H850.5 M845.9,1250.5 V1260.5" stroke-width="1.8" stroke-linecap="butt"/>
<path d="M840.8,1297.5 H851" stroke-width="2.3" stroke-linecap="butt"/>
<polyline points="849.7,1288.5 837.3,1288.5 834.1,1265.5 828.1,1265.5" stroke-width="1" fill="none"/>
<polyline points="843.6,1288.4 840.5,1265.5 834.1,1265.5" stroke-width="1" fill="none"/>
<line x1="863.4" y1="1255.5" x2="902.7" y2="1255.5" stroke-width="1.2"/>
<line x1="863.4" y1="1297.5" x2="902.7" y2="1297.5" stroke-width="1.2"/>
<text x="657.5" y="1260" text-anchor="start" font-size="18.75">BAT_GD</text>
<text x="873.9" y="1242.3" text-anchor="start" font-size="18.75">BATSNS</text>
<text x="873.9" y="1283.5" text-anchor="start" font-size="18.75">V<tspan dy="2.6" font-size="12.3">BATGD</tspan><tspan dy="-2.6"></tspan></text>
<line x1="645.2" y1="1384.5" x2="794.5" y2="1384.5" stroke-width="1.2"/>
<polygon points="863.5,1345.5 863.5,1423.5 794.4,1384.5" stroke-width="1.2" fill="#fff"/>
<path d="M841.3,1363.5 H850.5 M845.9,1358.5 V1368.5" stroke-width="1.8" stroke-linecap="butt"/>
<path d="M840.8,1405.5 H851" stroke-width="2.3" stroke-linecap="butt"/>
<polyline points="849.7,1396.5 837.3,1396.5 834.1,1373.5 828.1,1373.5" stroke-width="1" fill="none"/>
<polyline points="843.6,1396.4 840.5,1373.5 834.1,1373.5" stroke-width="1" fill="none"/>
<line x1="863.4" y1="1363.5" x2="902.7" y2="1363.5" stroke-width="1.2"/>
<line x1="863.4" y1="1405.5" x2="902.7" y2="1405.5" stroke-width="1.2"/>
<text x="657.5" y="1371.3" text-anchor="start" font-size="18.75">RECHRG</text>
<text x="873.9" y="1348.6" text-anchor="start" font-size="18.75">V<tspan dy="2.6" font-size="12.3">REG</tspan><tspan dy="-2.6"></tspan>&#160;-V<tspan dy="2.6" font-size="12.3">RECHG</tspan><tspan dy="-2.6"></tspan></text>
<text x="873.9" y="1392.7" text-anchor="start" font-size="18.75">BATSNS</text>
<line x1="645.2" y1="1471.5" x2="794.5" y2="1471.5" stroke-width="1.2"/>
<polygon points="863.5,1432.4 863.5,1510.4 794.4,1471.4" stroke-width="1.2" fill="#fff"/>
<path d="M841.3,1450.4 H850.5 M845.9,1445.4 V1455.4" stroke-width="1.8" stroke-linecap="butt"/>
<path d="M840.8,1492.4 H851" stroke-width="2.3" stroke-linecap="butt"/>
<polyline points="849.7,1483.5 837.3,1483.5 834.1,1460.5 828.1,1460.5" stroke-width="1" fill="none"/>
<polyline points="843.6,1483.3 840.5,1460.5 834.1,1460.5" stroke-width="1" fill="none"/>
<line x1="863.4" y1="1450.5" x2="902.7" y2="1450.5" stroke-width="1.2"/>
<line x1="863.4" y1="1492.5" x2="902.7" y2="1492.5" stroke-width="1.2"/>
<text x="657.5" y="1458.7" text-anchor="start" font-size="18.75">TERMINATION</text>
<text x="873.9" y="1436" text-anchor="start" font-size="18.75">I<tspan dy="2.6" font-size="12.3">CHG</tspan><tspan dy="-2.6"></tspan></text>
<text x="873.9" y="1479.3" text-anchor="start" font-size="18.75">I<tspan dy="2.6" font-size="12.3">TERM</tspan><tspan dy="-2.6"></tspan></text>
<line x1="645.2" y1="1558.5" x2="794.5" y2="1558.5" stroke-width="1.2"/>
<polygon points="863.5,1519.4 863.5,1597.4 794.4,1558.4" stroke-width="1.2" fill="#fff"/>
<path d="M841.3,1537.4 H850.5 M845.9,1532.4 V1542.4" stroke-width="1.8" stroke-linecap="butt"/>
<path d="M840.8,1579.4 H851" stroke-width="2.3" stroke-linecap="butt"/>
<polyline points="849.7,1570.5 837.3,1570.5 834.1,1547.5 828.1,1547.5" stroke-width="1" fill="none"/>
<polyline points="843.6,1570.3 840.5,1547.5 834.1,1547.5" stroke-width="1" fill="none"/>
<line x1="863.4" y1="1537.5" x2="902.7" y2="1537.5" stroke-width="1.2"/>
<line x1="863.4" y1="1579.5" x2="902.7" y2="1579.5" stroke-width="1.2"/>
<text x="657.5" y="1545.6" text-anchor="start" font-size="18.75">BATLOWV</text>
<text x="873.9" y="1522.5" text-anchor="start" font-size="18.75">V<tspan dy="2.6" font-size="12.3">BATLOWV</tspan><tspan dy="-2.6"></tspan></text>
<text x="873.9" y="1566.6" text-anchor="start" font-size="18.75">BATSNS</text>
<line x1="645.2" y1="1644.5" x2="794.5" y2="1644.5" stroke-width="1.2"/>
<polygon points="863.5,1605.9 863.5,1683.9 794.4,1644.9" stroke-width="1.2" fill="#fff"/>
<path d="M841.3,1623.9 H850.5 M845.9,1618.9 V1628.9" stroke-width="1.8" stroke-linecap="butt"/>
<path d="M840.8,1665.9 H851" stroke-width="2.3" stroke-linecap="butt"/>
<polyline points="849.7,1656.5 837.3,1656.5 834.1,1633.5 828.1,1633.5" stroke-width="1" fill="none"/>
<polyline points="843.6,1656.8 840.5,1633.5 834.1,1633.5" stroke-width="1" fill="none"/>
<line x1="863.4" y1="1623.5" x2="902.7" y2="1623.5" stroke-width="1.2"/>
<line x1="863.4" y1="1665.5" x2="902.7" y2="1665.5" stroke-width="1.2"/>
<text x="657.5" y="1632.2" text-anchor="start" font-size="18.75">BATSHORT</text>
<text x="873.9" y="1609.9" text-anchor="start" font-size="18.75">V<tspan dy="2.6" font-size="12.3">SHORT</tspan><tspan dy="-2.6"></tspan></text>
<text x="873.9" y="1653.6" text-anchor="start" font-size="18.75">BATSNS</text>
<text x="657.5" y="1681" text-anchor="start" font-size="18.75">SUSPEND</text>
<line x1="645.2" y1="1695.5" x2="1164.4" y2="1695.5" stroke-width="1.2"/>
<rect x="1164.5" y="1654.5" width="133" height="86" stroke-width="1.2" fill="#fff"/>
<text x="1231" y="1680.3" text-anchor="middle" font-size="18.75">Battery</text>
<text x="1231" y="1702.35" text-anchor="middle" font-size="18.75">Temperature</text>
<text x="1231" y="1724.4" text-anchor="middle" font-size="18.75">Sensing</text>
<line x1="1297.5" y1="1695.5" x2="1467" y2="1695.5" stroke-width="1.2"/>
<text x="1194.3" y="1585.1" text-anchor="start" font-size="18.75">BQ25600(D)</text>
<line x1="419.5" y1="1713.1" x2="419.5" y2="1743" stroke-width="1.2"/>
<line x1="476.5" y1="1713.1" x2="476.5" y2="1743" stroke-width="1.2"/>
<line x1="535.5" y1="1728.6" x2="535.5" y2="1743" stroke-width="1.2"/>
<line x1="1211.4" y1="925.5" x2="1534" y2="925.5" stroke-width="1.2"/>
<line x1="1211.5" y1="925.4" x2="1211.5" y2="985.4" stroke-width="1.2"/>
<circle cx="1363.5" cy="925.5" r="4.6" fill="#000" stroke="none"/>
<circle cx="1534.5" cy="925.5" r="4.6" fill="#000" stroke="none"/>
<line x1="1534.5" y1="925.4" x2="1534.5" y2="949.2" stroke-width="1.2"/>
<line x1="1516" y1="949.5" x2="1553" y2="949.5" stroke-width="1.2"/>
<line x1="1516" y1="961.5" x2="1553" y2="961.5" stroke-width="1.2"/>
<line x1="1534.5" y1="961.3" x2="1534.5" y2="985.7" stroke-width="1.2"/>
<polygon points="1516,985.5 1552,985.5 1534,1004.2" stroke-width="1.2" fill="#fff"/>
<polyline points="1244.5,985.4 1244.5,956.5 1335.1,956.5" stroke-width="1.2" fill="none"/>
<ellipse cx="1364.4" cy="956.5" rx="29.3" ry="15.2" fill="none" stroke-width="1.2"/>
<text x="1274.3" y="950.5" text-anchor="start" font-size="18.75">I<tspan dy="2.6" font-size="12.3">CHG</tspan><tspan dy="-2.6"></tspan></text>
<line x1="1363.5" y1="925.4" x2="1363.5" y2="982.5" stroke-width="1.2"/>
<polyline points="1290.5,1024.5 1327.5,1024.5 1327.5,982.3" stroke-width="1.2" fill="none"/>
<line x1="1339.5" y1="975.4" x2="1339.5" y2="989.6" stroke-width="1.2"/>
<line x1="1339.5" y1="996.2" x2="1339.5" y2="1010.6" stroke-width="1.2"/>
<line x1="1339.5" y1="1017.2" x2="1339.5" y2="1031.7" stroke-width="1.2"/>
<line x1="1339.4" y1="982.5" x2="1363.6" y2="982.5" stroke-width="1.2"/>
<line x1="1339.4" y1="1003.5" x2="1363.8" y2="1003.5" stroke-width="1.2"/>
<polygon points="1357.5,996 1357.5,1010.6 1345.1,1003.3" stroke-width="0.6" fill="#000"/>
<polyline points="1339.4,1024.5 1363.5,1024.5 1363.5,1073.8" stroke-width="1.2" fill="none"/>
<text x="1379" y="1008.6" text-anchor="start" font-size="18.75">BATFET</text>
<text x="1414.5" y="1032.4" text-anchor="middle" font-size="18.75">(Q4)</text>
<rect x="1164.5" y="985.5" width="126" height="66" stroke-width="1.2" fill="#fff"/>
<text x="1227.5" y="1012.5" text-anchor="middle" font-size="18.75">Q4 Gate</text>
<text x="1227.5" y="1035" text-anchor="middle" font-size="18.75">Control</text>
<line x1="1075.9" y1="994.5" x2="1164.4" y2="994.5" stroke-width="1.2"/>
<line x1="1075.9" y1="1018.5" x2="1164.4" y2="1018.5" stroke-width="1.2"/>
<text x="1085.4" y="987" text-anchor="start" font-size="18.75">V<tspan dy="2.6" font-size="12.3">BAT_REG</tspan><tspan dy="-2.6"></tspan></text>
<text x="1088.5" y="1013.3" text-anchor="start" font-size="18.75">I<tspan dy="2.6" font-size="12.3">CHG_REG</tspan><tspan dy="-2.6"></tspan></text>
<circle cx="1363.5" cy="1073.5" r="4.6" fill="#000" stroke="none"/>
<line x1="1363.8" y1="1073.5" x2="1534" y2="1073.5" stroke-width="1.2"/>
<circle cx="1522.5" cy="1073.5" r="4.6" fill="#000" stroke="none"/>
<line x1="1534.5" y1="1073.8" x2="1534.5" y2="1097.8" stroke-width="1.2"/>
<line x1="1516" y1="1097.5" x2="1553" y2="1097.5" stroke-width="1.2"/>
<line x1="1516" y1="1108.5" x2="1553" y2="1108.5" stroke-width="1.2"/>
<line x1="1534.5" y1="1108.9" x2="1534.5" y2="1133.3" stroke-width="1.2"/>
<polygon points="1516,1133.5 1552,1133.5 1534,1152" stroke-width="1.2" fill="#fff"/>
<polyline points="1211.5,1051.5 1211.5,1183.5 1467,1183.5" stroke-width="1.2" fill="none"/>
<polyline points="1483,1183.5 1494.5,1183.5 1494.5,1099.7 1522.5,1073.8" stroke-width="1.2" fill="none"/>
<polyline points="1164.4,1042.5 1097.5,1042.5 1097.5,1404.5 1467,1404.5" stroke-width="1.2" fill="none"/>
<rect x="1186.5" y="1246.5" width="126" height="168" stroke-width="1.2" fill="none"/>
<line x1="1236.2" y1="1258.5" x2="1262.5" y2="1258.5" stroke-width="1.2"/>
<line x1="1249.5" y1="1258.1" x2="1249.5" y2="1288.3" stroke-width="1.2"/>
<polygon points="1234.5,1288.5 1264.5,1288.5 1249.5,1313" stroke-width="0.8" fill="#000"/>
<line x1="1234.5" y1="1313.5" x2="1264.5" y2="1313.5" stroke-width="1.2"/>
<path d="M1249.5,1313 L1249.5,1332.7 L1256.8,1336.5 L1241.3,1344 L1256.8,1351.5 L1241.3,1359 L1256.8,1366.5 L1241.3,1373.5 L1249.5,1377.1 L1249.5,1404.1" stroke-width="1" fill="none"/>
<circle cx="1249.5" cy="1404.5" r="4.6" fill="#000" stroke="none"/>
<text x="1198" y="1272.4" text-anchor="start" font-size="18.75">V<tspan dy="2.6" font-size="12.3">QON</tspan><tspan dy="-2.6"></tspan></text>
<line x1="227.4" y1="1259.5" x2="236.4" y2="1259.5" stroke-width="1.2"/>
<line x1="227.4" y1="1300.5" x2="236.4" y2="1300.5" stroke-width="1.2"/>
<line x1="227.4" y1="1342.5" x2="236.4" y2="1342.5" stroke-width="1.2"/>
<rect x="236.5" y="1243.5" width="120" height="114" stroke-width="1.2" fill="#fff"/>
<text x="296.2" y="1282.6" text-anchor="middle" font-size="18.75">Input</text>
<text x="296.2" y="1305" text-anchor="middle" font-size="18.75">Source</text>
<text x="296.2" y="1327.4" text-anchor="middle" font-size="18.75">Detection</text>
<line x1="356.7" y1="1303.5" x2="381.4" y2="1303.5" stroke-width="1.2"/>
<polyline points="226.7,1423.5 323.5,1423.5 323.5,1439.4" stroke-width="1.2" fill="none"/>
<line x1="227.5" y1="1536.5" x2="381.4" y2="1536.5" stroke-width="1.2"/>
<circle cx="324.5" cy="1536.5" r="5.6" fill="#000" stroke="none"/>
<line x1="324.5" y1="1536.4" x2="324.5" y2="1552.4" stroke-width="1.2"/>
<polyline points="227.5,1648.5 324.5,1648.5 324.5,1665.4" stroke-width="1.2" fill="none"/>
<line x1="301.4" y1="1439.5" x2="345.1" y2="1439.5" stroke-width="1.2"/>
<line x1="345.5" y1="1433.4" x2="345.5" y2="1494.4" stroke-width="1.2"/>
<line x1="357.5" y1="1448" x2="357.5" y2="1479.6" stroke-width="1.2"/>
<line x1="357.4" y1="1464.5" x2="381.4" y2="1464.5" stroke-width="1.2"/>
<polyline points="323.5,1488.4 323.5,1464.5 335.6,1464.5" stroke-width="1.2" fill="none"/>
<polygon points="335.5,1459 335.5,1469.4 345.1,1464.2" stroke-width="0.6" fill="#000"/>
<line x1="301.4" y1="1488.5" x2="345.1" y2="1488.5" stroke-width="1.2"/>
<line x1="301.5" y1="1439.4" x2="301.5" y2="1488.4" stroke-width="1.2"/>
<polygon points="286.6,1476.5 316.2,1476.5 301.4,1451.3" stroke-width="0.8" fill="#000"/>
<line x1="286.6" y1="1451.5" x2="316.2" y2="1451.5" stroke-width="1.2"/>
<circle cx="323.5" cy="1488.5" r="4.5" fill="#000" stroke="none"/>
<line x1="323.5" y1="1488.4" x2="323.5" y2="1512.5" stroke-width="1.2"/>
<line x1="307" y1="1512.5" x2="340" y2="1512.5" stroke-width="1.2"/>
<line x1="313" y1="1520.5" x2="334" y2="1520.5" stroke-width="1.2"/>
<line x1="319.2" y1="1527.5" x2="327.8" y2="1527.5" stroke-width="1.2"/>
<line x1="301.4" y1="1552.5" x2="345.1" y2="1552.5" stroke-width="1.2"/>
<line x1="345.5" y1="1546.2" x2="345.5" y2="1607.2" stroke-width="1.2"/>
<line x1="357.5" y1="1560.8" x2="357.5" y2="1592.4" stroke-width="1.2"/>
<line x1="357.4" y1="1577.5" x2="381.4" y2="1577.5" stroke-width="1.2"/>
<polyline points="323.5,1601.2 323.5,1577.5 335.6,1577.5" stroke-width="1.2" fill="none"/>
<polygon points="335.5,1571.8 335.5,1582.2 345.1,1577" stroke-width="0.6" fill="#000"/>
<line x1="301.4" y1="1601.5" x2="345.1" y2="1601.5" stroke-width="1.2"/>
<line x1="301.5" y1="1552.2" x2="301.5" y2="1601.2" stroke-width="1.2"/>
<polygon points="286.6,1589.5 316.2,1589.5 301.4,1564.1" stroke-width="0.8" fill="#000"/>
<line x1="286.6" y1="1564.5" x2="316.2" y2="1564.5" stroke-width="1.2"/>
<circle cx="323.5" cy="1601.5" r="4.5" fill="#000" stroke="none"/>
<line x1="323.5" y1="1601.2" x2="323.5" y2="1625.3" stroke-width="1.2"/>
<line x1="307" y1="1625.5" x2="340" y2="1625.5" stroke-width="1.2"/>
<line x1="313" y1="1632.5" x2="334" y2="1632.5" stroke-width="1.2"/>
<line x1="319.2" y1="1639.5" x2="327.8" y2="1639.5" stroke-width="1.2"/>
<line x1="301.4" y1="1665.5" x2="345.1" y2="1665.5" stroke-width="1.2"/>
<line x1="345.5" y1="1659" x2="345.5" y2="1720" stroke-width="1.2"/>
<line x1="357.5" y1="1673.6" x2="357.5" y2="1705.2" stroke-width="1.2"/>
<line x1="357.4" y1="1689.5" x2="381.4" y2="1689.5" stroke-width="1.2"/>
<polyline points="323.5,1714 323.5,1689.5 335.6,1689.5" stroke-width="1.2" fill="none"/>
<polygon points="335.5,1684.6 335.5,1695 345.1,1689.8" stroke-width="0.6" fill="#000"/>
<line x1="301.4" y1="1714.5" x2="345.1" y2="1714.5" stroke-width="1.2"/>
<line x1="301.5" y1="1665" x2="301.5" y2="1714" stroke-width="1.2"/>
<polygon points="286.6,1702.5 316.2,1702.5 301.4,1676.9" stroke-width="0.8" fill="#000"/>
<line x1="286.6" y1="1676.5" x2="316.2" y2="1676.5" stroke-width="1.2"/>
<circle cx="323.5" cy="1714.5" r="4.5" fill="#000" stroke="none"/>
<line x1="323.5" y1="1714" x2="323.5" y2="1738.1" stroke-width="1.2"/>
<line x1="307" y1="1738.5" x2="340" y2="1738.5" stroke-width="1.2"/>
<line x1="313" y1="1745.5" x2="334" y2="1745.5" stroke-width="1.2"/>
<line x1="319.2" y1="1752.5" x2="327.8" y2="1752.5" stroke-width="1.2"/>
<rect x="211.5" y="1.6" width="1256" height="1757.9" stroke-width="2.8" fill="none"/>
<rect x="195.5" y="47.5" width="32" height="31" stroke-width="1.2" fill="#fff"/>
<rect x="195.5" y="399.5" width="32" height="31" stroke-width="1.2" fill="#fff"/>
<rect x="195.5" y="1243.5" width="32" height="31" stroke-width="1.2" fill="#fff"/>
<rect x="195.5" y="1285.5" width="32" height="31" stroke-width="1.2" fill="#fff"/>
<rect x="195.5" y="1326.5" width="32" height="31" stroke-width="1.2" fill="#fff"/>
<rect x="195.5" y="1408.5" width="32" height="31" stroke-width="1.2" fill="#fff"/>
<rect x="195.5" y="1521.5" width="32" height="31" stroke-width="1.2" fill="#fff"/>
<rect x="195.5" y="1633.5" width="32" height="31" stroke-width="1.2" fill="#fff"/>
<rect x="1451.5" y="47.5" width="32" height="31" stroke-width="1.2" fill="#fff"/>
<rect x="1451.5" y="334.5" width="32" height="31" stroke-width="1.2" fill="#fff"/>
<rect x="1451.5" y="559.5" width="32" height="31" stroke-width="1.2" fill="#fff"/>
<rect x="1451.5" y="694.5" width="32" height="31" stroke-width="1.2" fill="#fff"/>
<rect x="1451.5" y="908.5" width="32" height="31" stroke-width="1.2" fill="#fff"/>
<rect x="1451.5" y="1058.5" width="32" height="31" stroke-width="1.2" fill="#fff"/>
<rect x="1451.5" y="1168.5" width="32" height="31" stroke-width="1.2" fill="#fff"/>
<rect x="1451.5" y="1679.5" width="32" height="31" stroke-width="1.2" fill="#fff"/>
<rect x="1450.5" y="187.5" width="31" height="31" stroke-width="1.2" fill="#fff"/>
<rect x="1450.5" y="1389.5" width="31" height="31" stroke-width="1.2" fill="#fff"/>
<rect x="403.5" y="1743.5" width="32" height="31" stroke-width="1.2" fill="#fff"/>
<rect x="460.5" y="1743.5" width="32" height="31" stroke-width="1.2" fill="#fff"/>
<rect x="519.5" y="1743.5" width="32" height="31" stroke-width="1.2" fill="#fff"/>
<text x="136.5" y="46" text-anchor="start" font-size="18.75">VBUS</text>
<text x="143" y="398.5" text-anchor="start" font-size="18.75">VAC</text>
<text x="2" y="409" text-anchor="start" font-size="18.75">VAC</text>
<text x="1493.8" y="51" text-anchor="start" font-size="18.75">PMID</text>
<text x="1492.5" y="188.6" text-anchor="start" font-size="18.75">REGN</text>
<text x="1493" y="336" text-anchor="start" font-size="18.75">BTST</text>
<text x="1493.3" y="563.4" text-anchor="start" font-size="18.75">SW</text>
<text x="1472.5" y="683.6" text-anchor="start" font-size="18.75">PGND</text>
<text x="1486.5" y="900" text-anchor="start" font-size="18.75">SYS</text>
<text x="1501.3" y="1065" text-anchor="start" font-size="18.75">BAT</text>
<text x="1471.7" y="1219" text-anchor="start" font-size="18.75">BATSNS</text>
<text x="1495" y="1409.5" text-anchor="start" font-size="18.75">QON</text>
<line x1="1495.5" y1="1390.5" x2="1537" y2="1390.5" stroke-width="1.3"/>
<text x="1494.3" y="1700" text-anchor="start" font-size="18.75">TS</text>
<text x="182.1" y="1265.1" text-anchor="end" font-size="18.75">D+ (BQ25600D)</text>
<text x="182.1" y="1307.6" text-anchor="end" font-size="18.75">D– (BQ25600D)</text>
<text x="182.1" y="1346.7" text-anchor="end" font-size="18.75">PSEL (BQ25600)</text>
<text x="182.1" y="1428.6" text-anchor="end" font-size="18.75">INT</text>
<line x1="154" y1="1408.5" x2="179" y2="1408.5" stroke-width="1.3"/>
<text x="182.5" y="1541.4" text-anchor="end" font-size="18.75" letter-spacing="0.6">STAT</text>
<text x="184.4" y="1653.5" text-anchor="end" font-size="18.75">PG (BQ25600)</text>
<line x1="62.5" y1="1634.5" x2="94.5" y2="1634.5" stroke-width="1.3"/>
<text x="419.4" y="1799.2" text-anchor="middle" font-size="18.75">SCL</text>
<text x="476.2" y="1799.2" text-anchor="middle" font-size="18.75">SDA</text>
<text x="535.6" y="1799.2" text-anchor="middle" font-size="18.75">CE</text>
<line x1="523.5" y1="1780.5" x2="548" y2="1780.5" stroke-width="1.3"/>
</svg>
</body></html>
